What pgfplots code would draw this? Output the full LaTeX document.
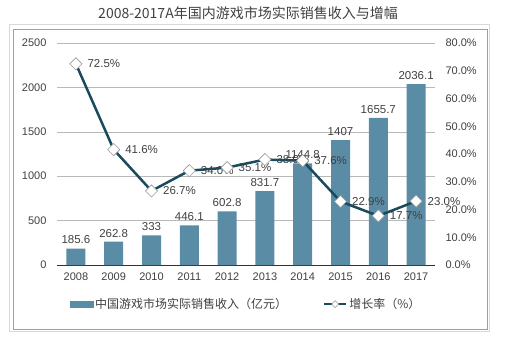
\documentclass[border=0pt]{standalone}
\usepackage{fontspec}
\setmainfont{Liberation Sans}
\newfontfamily\cjk{Noto Sans CJK SC}
\usepackage{pgfplots}
\usepackage{pgfplotstable}
\pgfplotsset{compat=1.18}
\definecolor{barc}{HTML}{5B8CA5}
\definecolor{linec}{HTML}{1A4A5E}
\definecolor{txt}{HTML}{404040}

\pgfplotstableread{
x rev lab
0 185.6 185.6
1 262.8 262.8
2 333 333
3 446.1 446.1
4 602.8 602.8
5 831.7 831.7
6 1144.8 1144.8
7 1407 1407
8 1655.7 1655.7
9 2036.1 2036.1
}\bars
\pgfplotstableread{
x g lab
0 72.5 72.5
1 41.6 41.6
2 26.7 26.7
3 34.0 34.0
4 35.1 35.1
5 38.0 38.0
6 37.6 37.6
7 22.9 22.9
8 17.7 17.7
9 23.0 23.0
}\growth

\begin{document}
\begin{tikzpicture}[font=\fontsize{11}{13}\selectfont]
\path[use as bounding box] (-57pt,-73pt) rectangle (455pt,265pt);
\draw[gray!30] (-48pt,-66pt) rectangle (432pt,241pt);
\draw[gray!75] (-44pt,-64pt) rectangle (430pt,236pt);
\node[font=\cjk\fontsize{14}{16}\selectfont, text=txt] at (191pt,252pt) {2008-2017A年国内游戏市场实际销售收入与增幅};

\begin{axis}[
  at={(0pt,0pt)}, anchor=south west,
  scale only axis, width=378pt, height=222pt,
  xmin=-0.5, xmax=9.5, ymin=0, ymax=2500,
  ytick={0,500,...,2500},
  xtick={0,...,9},
  xticklabels={2008,2009,2010,2011,2012,2013,2014,2015,2016,2017},
  ymajorgrids, grid style={gray!55, line width=0.5pt},
  axis x line*=bottom, axis y line*=left,
  y axis line style={draw=none},
  x axis line style={draw=black!80, line width=0.6pt, -},
  tick style={draw=none},
  major tick length=0pt,
  ticklabel style={text=txt, font=\fontsize{11}{13}\selectfont},
  yticklabel style={xshift=-7pt},
  xticklabel style={yshift=-4pt},
  /pgf/number format/assume math mode=true,
  /pgf/number format/1000 sep={},
]
\addplot[ybar, bar width=19pt, fill=barc, draw=none,
  nodes near coords, point meta=explicit symbolic,
  nodes near coords style={text=txt, font=\fontsize{11.5}{13}\selectfont, yshift=1pt}]
  table[x=x, y=rev, meta=lab] {\bars};
\end{axis}

\begin{axis}[
  at={(0pt,0pt)}, anchor=south west,
  scale only axis, width=378pt, height=222pt,
  xmin=-0.5, xmax=9.5, ymin=0, ymax=80,
  ytick={0,10,...,80},
  yticklabel={\pgfmathprintnumber[fixed,fixed zerofill,precision=1,assume math mode=true]{\tick}\%},
  axis x line=none, axis y line*=right,
  y axis line style={draw=none},
  tick style={draw=none},
  major tick length=0pt,
  ticklabel style={text=txt, font=\fontsize{11}{13}\selectfont},
  yticklabel style={xshift=7pt},
  legend style={draw=none, fill=none, at={(0.5,-0.176)}, anchor=center,
    legend columns=2, font=\cjk\fontsize{12}{14}\selectfont, text=txt,
    /tikz/every even column/.append style={column sep=34pt}},
]
\addlegendimage{legend image code/.code={\fill[barc] (0pt,-3pt) rectangle (23pt,3pt);}}
\addlegendentry{中国游戏市场实际销售收入（亿元）}
\addplot[linec, line width=2.5pt,
  mark=square*, mark size=4.3pt,
  mark options={rotate=45, fill=white, draw=gray!80, line width=0.6pt},
  nodes near coords={\pgfplotspointmeta\%}, point meta=explicit symbolic,
  nodes near coords style={anchor=west, xshift=8pt, yshift=0pt, text=txt, font=\fontsize{11.5}{13}\selectfont},
  legend image code/.code={\draw[linec, line width=2.2pt] (0pt,0pt) -- (22pt,0pt);
    \draw[fill=white, draw=gray!80, line width=0.5pt] (11pt,3.5pt) -- (14.5pt,0pt) -- (11pt,-3.5pt) -- (7.5pt,0pt) -- cycle;}]
  table[x=x, y=g, meta=lab] {\growth};
\addlegendentry{增长率（\%）}
\end{axis}
\end{tikzpicture}
\end{document}
